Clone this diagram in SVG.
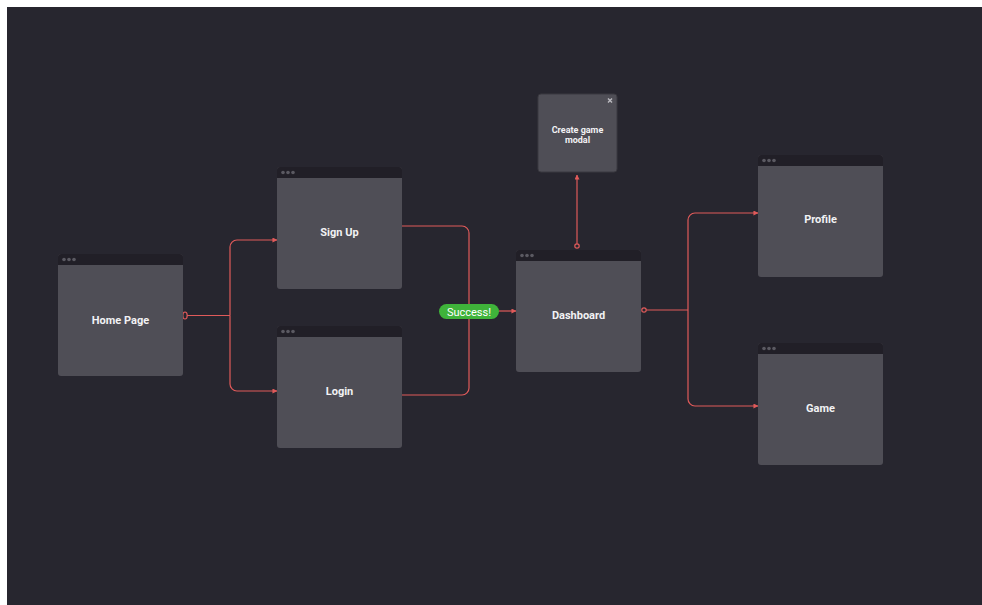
<svg xmlns="http://www.w3.org/2000/svg" width="982" height="605" viewBox="0 0 982 605">
  <style>
    .body { fill: #4f4e56; }
    .head { fill: #211f27; }
    .dot { fill: #5b5a62; }
    .label { font-family: Roboto, "Liberation Sans", sans-serif; font-weight: bold; font-size: 11px; fill: #f2f2f4; text-anchor: middle; }
    .wire { fill: none; stroke: #e05a5a; stroke-width: 1.2; }
    .port { fill: none; stroke: #e05a5a; stroke-width: 1.2; }
  </style>
  <defs>
    <marker id="arrow" viewBox="0 0 6 6" refX="5.5" refY="3" markerWidth="5" markerHeight="5" orient="auto" markerUnits="userSpaceOnUse">
      <path d="M0,0 L6,3 L0,6 Z" fill="#e05a5a"/>
    </marker>
    <g id="win">
      <rect x="0" y="0" width="125" height="122" rx="3" class="body"/>
      <path d="M0,11 V3 A3,3 0 0 1 3,0 H122 A3,3 0 0 1 125,3 V11 Z" class="head"/>
      <circle cx="6" cy="5.5" r="1.8" class="dot"/>
      <circle cx="11" cy="5.5" r="1.8" class="dot"/>
      <circle cx="16" cy="5.5" r="1.8" class="dot"/>
    </g>
  </defs>

  <rect x="0" y="0" width="982" height="605" fill="#ffffff"/>
  <rect x="7" y="7" width="975" height="598" fill="#27262f"/>

  <!-- connectors -->
  <g id="connectors">
    <ellipse cx="185" cy="315.5" rx="2.2" ry="3.5" class="port"/>
    <path d="M187,315.5 H230" class="wire"/>
    <path d="M230,315.5 V247 A7,7 0 0 1 237,240 H277" class="wire" marker-end="url(#arrow)"/>
    <path d="M230,315.5 V384 A7,7 0 0 0 237,391 H277" class="wire" marker-end="url(#arrow)"/>

    <path d="M402,226 H462 A7,7 0 0 1 469,233 V304" class="wire"/>
    <path d="M402,395 H462 A7,7 0 0 0 469,388 V319" class="wire"/>
    <path d="M499,311 H516" class="wire" marker-end="url(#arrow)"/>

    <circle cx="577" cy="246" r="2.2" class="port"/>
    <path d="M577,243.8 V175" class="wire" marker-end="url(#arrow)"/>

    <circle cx="644" cy="310" r="2.2" class="port"/>
    <path d="M646.2,310 H688" class="wire"/>
    <path d="M688,310 V220 A7,7 0 0 1 695,213 H758" class="wire" marker-end="url(#arrow)"/>
    <path d="M688,310 V399 A7,7 0 0 0 695,406 H758" class="wire" marker-end="url(#arrow)"/>

    <g id="success">
      <rect x="439" y="304" width="60" height="15" rx="7.5" fill="#3fb33a"/>
      <text x="469" y="315.5" font-family="Roboto, 'Liberation Sans', sans-serif" font-size="11" fill="#ffffff" text-anchor="middle">Success!</text>
    </g>
  </g>

  <!-- nodes -->
  <g id="home-page">
    <use href="#win" x="58" y="254"/>
    <text x="120.5" y="323.5" class="label">Home Page</text>
  </g>
  <g id="sign-up">
    <use href="#win" x="277" y="167"/>
    <text x="339.5" y="236" class="label">Sign Up</text>
  </g>
  <g id="login">
    <use href="#win" x="277" y="326"/>
    <text x="339.5" y="395" class="label">Login</text>
  </g>
  <g id="dashboard">
    <use href="#win" x="516" y="250"/>
    <text x="578.5" y="319" class="label">Dashboard</text>
  </g>
  <g id="create-game-modal">
    <rect x="538" y="94" width="79" height="78" rx="3" class="body" stroke="#3a3940" stroke-width="1"/>
    <path d="M608,98.5 L612,102.5 M612,98.5 L608,102.5" stroke="#bdbcc2" stroke-width="1.4"/>
    <text x="577.5" y="133" class="label" font-size="9" style="font-size:9px">Create game</text>
    <text x="577.5" y="143" class="label" style="font-size:9px">modal</text>
  </g>
  <g id="profile">
    <use href="#win" x="758" y="155"/>
    <text x="820.5" y="223" class="label">Profile</text>
  </g>
  <g id="game">
    <use href="#win" x="758" y="343"/>
    <text x="820.5" y="412" class="label">Game</text>
  </g>
</svg>
